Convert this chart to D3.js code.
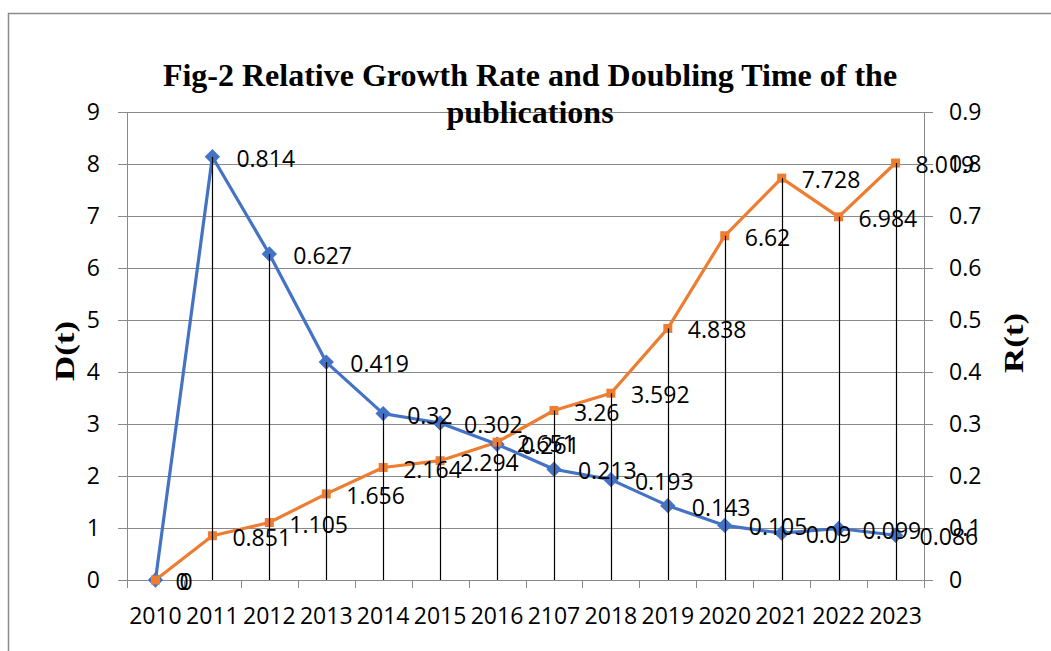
<!DOCTYPE html>
<html>
<head>
<meta charset="utf-8">
<script src="https://cdn.jsdelivr.net/npm/d3@7"></script>
<style>
  body { margin: 0; background: #fff; }
  svg { display: block; }
  .tick text { font-family: "Open Sans", sans-serif; font-size: 23px; fill: #000; }
  .axis path, .axis line { stroke: #898989; }
</style>
</head>
<body>
<svg id="chart"></svg>
<script>
// categories (the "2107" label is as printed in the source figure)
const years = ['2010', '2011', '2012', '2013', '2014', '2015', '2016', '2107', '2018', '2019', '2020', '2021', '2022', '2023'];
// R(t) relative growth rate - right axis
const rtValues = [0, 0.814, 0.627, 0.419, 0.32, 0.302, 0.261, 0.213, 0.193, 0.143, 0.105, 0.09, 0.099, 0.086];
// D(t) doubling time - left axis
const dtValues = [0, 0.851, 1.105, 1.656, 2.164, 2.294, 2.651, 3.26, 3.592, 4.838, 6.62, 7.728, 6.984, 8.019];
const leftTicks = [0, 1, 2, 3, 4, 5, 6, 7, 8, 9];
const rightTicks = [0, 0.1, 0.2, 0.3, 0.4, 0.5, 0.6, 0.7, 0.8, 0.9];

const width = 1051, height = 651;
const margin = {top: 112, right: 127, bottom: 71, left: 127};
const innerW = width - margin.left - margin.right;
const innerH = height - margin.top - margin.bottom;
const labelFont = '"Open Sans", sans-serif';

const svg = d3.select('#chart').attr('width', width).attr('height', height);

// outer chart border
svg.append('rect')
  .attr('x', 8.5).attr('y', 13.5)
  .attr('width', 1100).attr('height', 700)
  .attr('fill', 'none').attr('stroke', '#8c8c8c').attr('stroke-width', 1.5);

const g = svg.append('g').attr('transform', `translate(${margin.left},${margin.top})`);

const x = d3.scaleBand().domain(years).range([0, innerW]);
const yL = d3.scaleLinear().domain([0, 9]).range([innerH, 0]);
const yR = d3.scaleLinear().domain([0, 0.9]).range([innerH, 0]);
const cx = d => x(d) + x.bandwidth() / 2;

// gridlines (extend out as left ticks)
g.append('g').selectAll('line').data(leftTicks).join('line')
  .attr('x1', -9).attr('x2', innerW)
  .attr('y1', d => Math.round(yL(d)) + 0.5).attr('y2', d => Math.round(yL(d)) + 0.5)
  .attr('stroke', '#898989').attr('stroke-width', 1);

// left axis
const leftAxis = g.append('g').attr('class', 'axis')
  .call(d3.axisLeft(yL).tickValues(leftTicks).tickSize(9).tickPadding(18).tickFormat(d3.format('d')));
leftAxis.select('.domain').remove();
leftAxis.selectAll('.tick line').remove();
g.append('line').attr('x1', 0.5).attr('x2', 0.5).attr('y1', 0).attr('y2', innerH)
  .attr('stroke', '#898989');

// right axis
const rightAxis = g.append('g').attr('class', 'axis')
  .attr('transform', `translate(${innerW},0)`)
  .call(d3.axisRight(yR).tickValues(rightTicks).tickSize(9).tickPadding(16).tickFormat(d => d === 0 ? '0' : d3.format('.1f')(d)));
rightAxis.select('.domain').remove();
g.append('line').attr('x1', innerW + 0.5).attr('x2', innerW + 0.5).attr('y1', 0).attr('y2', innerH)
  .attr('stroke', '#898989');

// bottom axis, ticks between categories
const bottom = g.append('g').attr('class', 'axis').attr('transform', `translate(0,${innerH})`);
bottom.append('line').attr('x1', 0).attr('x2', innerW).attr('y1', 0.5).attr('y2', 0.5).attr('stroke', '#898989');
bottom.selectAll('.sep').data(d3.range(years.length + 1)).join('line')
  .attr('class', 'sep')
  .attr('x1', i => Math.round(i * x.step()) + 0.5).attr('x2', i => Math.round(i * x.step()) + 0.5)
  .attr('y1', 0).attr('y2', 8).attr('stroke', '#898989');
bottom.selectAll('text').data(years).join('text')
  .attr('x', d => cx(d)).attr('y', 36)
  .attr('dy', '0.35em').attr('text-anchor', 'middle')
  .attr('font-family', labelFont).attr('font-size', 23)
  .text(d => d);

// series lines
const rtLine = d3.line().x((d, i) => cx(years[i])).y(d => yR(d));
const dtLine = d3.line().x((d, i) => cx(years[i])).y(d => yL(d));

g.append('path').datum(rtValues).attr('d', rtLine)
  .attr('fill', 'none').attr('stroke', '#4472C4').attr('stroke-width', 3.2).attr('stroke-linejoin', 'round');
g.append('path').datum(dtValues).attr('d', dtLine)
  .attr('fill', 'none').attr('stroke', '#ED7D31').attr('stroke-width', 3.2).attr('stroke-linejoin', 'round');

// markers
g.selectAll('.rt-mark').data(rtValues).join('path')
  .attr('class', 'rt-mark')
  .attr('d', d3.symbol(d3.symbolDiamond2, 150))
  .attr('transform', (d, i) => `translate(${cx(years[i])},${yR(d)})`)
  .attr('fill', '#4472C4');
g.selectAll('.dt-mark').data(dtValues).join('rect')
  .attr('class', 'dt-mark')
  .attr('x', (d, i) => cx(years[i]) - 4.5).attr('y', d => yL(d) - 4.5)
  .attr('width', 9).attr('height', 9)
  .attr('fill', '#ED7D31');

// drop lines from the higher point to the axis
g.selectAll('.drop').data(years).join('line')
  .attr('class', 'drop')
  .attr('x1', d => Math.round(cx(d)) + 0.5).attr('x2', d => Math.round(cx(d)) + 0.5)
  .attr('y1', (d, i) => Math.min(yL(dtValues[i]), yR(rtValues[i])))
  .attr('y2', innerH)
  .attr('stroke', '#000').attr('stroke-width', 1.2);

// data labels
g.selectAll('.rt-label').data(rtValues).join('text')
  .attr('class', 'rt-label')
  .attr('x', (d, i) => cx(years[i]) + 24).attr('y', d => yR(d) + 2)
  .attr('dy', '0.35em')
  .attr('font-family', labelFont).attr('font-size', 23)
  .text(d => String(d));
g.selectAll('.dt-label').data(dtValues).join('text')
  .attr('class', 'dt-label')
  .attr('x', (d, i) => cx(years[i]) + 20).attr('y', d => yL(d) + 2)
  .attr('dy', '0.35em')
  .attr('font-family', labelFont).attr('font-size', 23)
  .text(d => String(d));

// title
const title = svg.append('text')
  .attr('x', 530).attr('y', 75)
  .attr('text-anchor', 'middle')
  .attr('font-family', '"Liberation Serif", serif').attr('font-weight', 'bold').attr('font-size', 32);
title.append('tspan').attr('x', 530).attr('dy', '0.35em').text('Fig-2 Relative Growth Rate and Doubling Time of the');
title.append('tspan').attr('x', 530).attr('dy', 37).text('publications');

// axis titles
svg.append('text')
  .attr('transform', `translate(64,351) rotate(-90) scale(1.25,1)`)
  .attr('text-anchor', 'middle').attr('dy', '0.35em')
  .attr('font-family', '"Liberation Serif", serif').attr('font-weight', 'bold').attr('font-size', 28)
  .text('D(t)');
svg.append('text')
  .attr('transform', `translate(1013,343) rotate(-90) scale(1.25,1)`)
  .attr('text-anchor', 'middle').attr('dy', '0.35em')
  .attr('font-family', '"Liberation Serif", serif').attr('font-weight', 'bold').attr('font-size', 28)
  .text('R(t)');
</script>
</body>
</html>
